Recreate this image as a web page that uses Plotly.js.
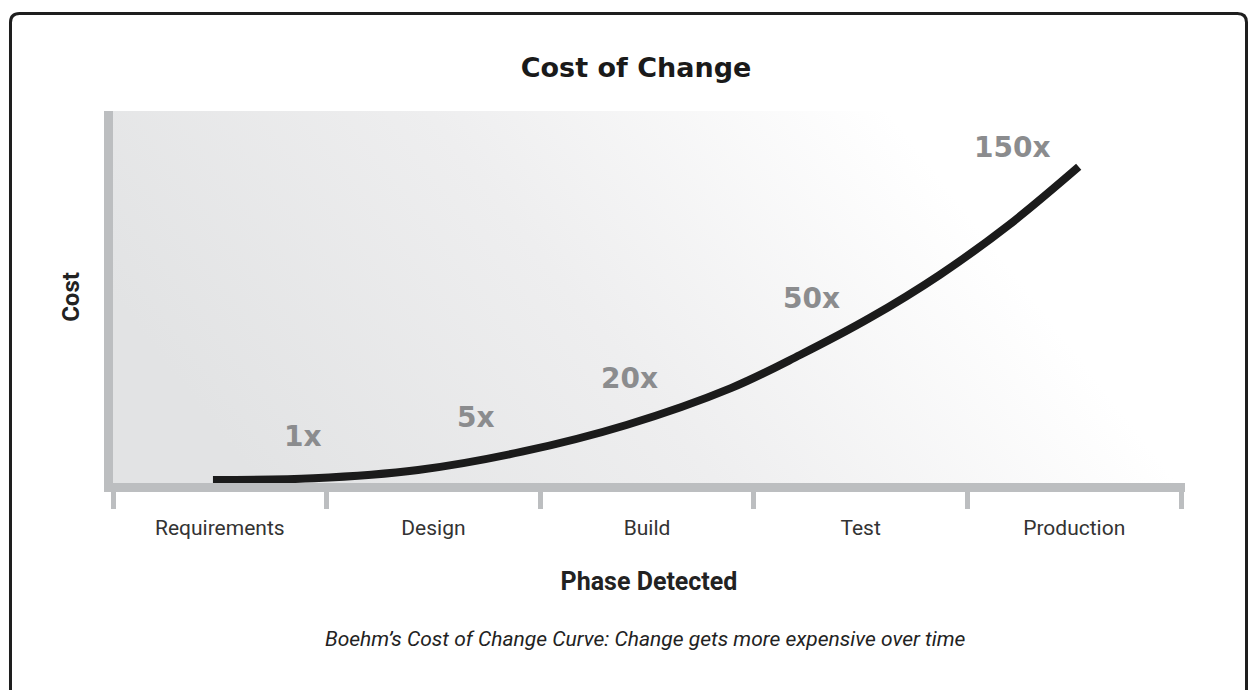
<!DOCTYPE html>
<html>
<head>
<meta charset="utf-8">
<script src="https://cdn.plot.ly/plotly-3.0.1.min.js"></script>
<style>
  html, body { margin: 0; padding: 0; background: #ffffff; }
  #chart { width: 1248px; height: 690px; }
</style>
</head>
<body>
<div id="chart"></div>
<script>
// ---- data ----
const categories = ["Requirements", "Design", "Build", "Test", "Production"];
const phaseBoundaries = [0, 1, 2, 3, 4, 5];
// relative cost curve (phase units on x, relative height 0-100 on y)
const curveX = [0.468, 0.939, 1.428, 1.915, 2.404, 2.893, 3.216, 3.544, 3.869, 4.195, 4.521];
const curveY = [0.81, 1.26, 3.49, 8.41, 15.6, 25.5, 34.4, 44.4, 55.9, 69.4, 85.0];
// multiplier labels
const multiplierText = ["1x", "5x", "20x", "50x", "150x"];
const multiplierX = [0.890, 1.699, 2.420, 3.268, 4.213];
const multiplierY = [12.4, 17.5, 28.2, 49.5, 90.1];
const chartTitle = "Cost of Change";
const xTitle = "Phase Detected";
const yTitle = "Cost";
const caption = "Boehm’s Cost of Change Curve: Change gets more expensive over time";

// ---- layout helpers (pixel -> paper) ----
const W = 1248, H = 690;
const M = { l: 113, r: 63, t: 111, b: 207 };
const PW = W - M.l - M.r, PH = H - M.t - M.b;
const px = v => (v - M.l) / PW;
const py = v => (H - M.b - v) / PH;
const P = (x, y) => px(x).toFixed(5) + "," + py(y).toFixed(5);

const axisGray = "#bcbec0";
const pxPerUnit = 213.6;
const xMax = 5 + 4 / pxPerUnit;

const gradSvg =
  '<svg xmlns="http://www.w3.org/2000/svg" width="1072" height="372" preserveAspectRatio="none">' +
  '<defs><linearGradient id="g" x1="0" y1="0.5" x2="0.8" y2="0.284">' +
  '<stop offset="0" stop-color="#e2e3e4"/><stop offset="0.5" stop-color="#eeeeef"/><stop offset="1" stop-color="#ffffff"/>' +
  '</linearGradient></defs><rect width="1072" height="372" fill="url(#g)"/></svg>';
const gradUri = "data:image/svg+xml;base64," + btoa(gradSvg);

const traces = [{
  type: "scatter",
  mode: "lines",
  x: curveX,
  y: curveY,
  line: { color: "#1b1b1b", width: 8, shape: "spline", smoothing: 1 },
  hoverinfo: "skip",
  showlegend: false
}];

const annotations = multiplierText.map((t, i) => ({
  text: t, x: multiplierX[i], y: multiplierY[i], xref: "x", yref: "y",
  showarrow: false, xanchor: "center", yanchor: "middle",
  font: { family: "DejaVu Sans", size: 28, color: "#8b8c8e", weight: "bold" }
}));
annotations.push({
  text: caption, xref: "paper", yref: "paper",
  x: px(645), y: py(639), xanchor: "center", yanchor: "middle", showarrow: false,
  font: { family: "Roboto", size: 21, color: "#222222", style: "italic" }
});

const border = "M" + P(10.5, 705) + " L" + P(10.5, 22.5) + " Q" + P(10.5, 13.5) + " " + P(19.5, 13.5) +
  " L" + P(1237.5, 13.5) + " Q" + P(1246.5, 13.5) + " " + P(1246.5, 22.5) + " L" + P(1246.5, 705);

const layout = {
  width: W, height: H,
  margin: M,
  paper_bgcolor: "#ffffff",
  plot_bgcolor: "rgba(0,0,0,0)",
  showlegend: false,
  title: {
    text: chartTitle, xref: "container", yref: "container",
    x: 636 / W, y: 1 - 68 / H, xanchor: "center", yanchor: "middle",
    font: { family: "DejaVu Sans", size: 27, color: "#1a1a1a", weight: "bold" }
  },
  xaxis: {
    range: [0, xMax], fixedrange: true,
    showgrid: false, zeroline: false,
    showline: true, linewidth: 9, linecolor: axisGray,
    tickmode: "array",
    tickvals: categories.map((c, i) => i + 0.5),
    ticktext: categories,
    ticks: "", ticklabelstandoff: 18,
    tickfont: { family: "Roboto", size: 21, color: "#333333" },
    minor: { tickmode: "array", tickvals: phaseBoundaries, ticks: "outside", ticklen: 17, tickwidth: 5, tickcolor: axisGray, showgrid: false },
    title: { text: xTitle, standoff: 37, font: { family: "Roboto", size: 25, color: "#222222", weight: "bold" } }
  },
  yaxis: {
    range: [0, 100], fixedrange: true,
    showgrid: false, zeroline: false,
    showline: true, linewidth: 9, linecolor: axisGray,
    showticklabels: false, ticks: "",
    title: { text: yTitle, standoff: 21, font: { family: "Roboto", size: 24, color: "#222222", weight: "bold" } }
  },
  images: [{
    source: gradUri, xref: "paper", yref: "paper", x: 0, y: 1, sizex: 1, sizey: 1,
    sizing: "stretch", xanchor: "left", yanchor: "top", layer: "below"
  }],
  shapes: [{
    type: "path", xref: "paper", yref: "paper", path: border,
    line: { color: "#1e1e1e", width: 3 }, fillcolor: "rgba(0,0,0,0)", layer: "above"
  }],
  annotations: annotations
};

Plotly.newPlot("chart", traces, layout, { displayModeBar: false, staticPlot: true });
</script>
</body>
</html>
